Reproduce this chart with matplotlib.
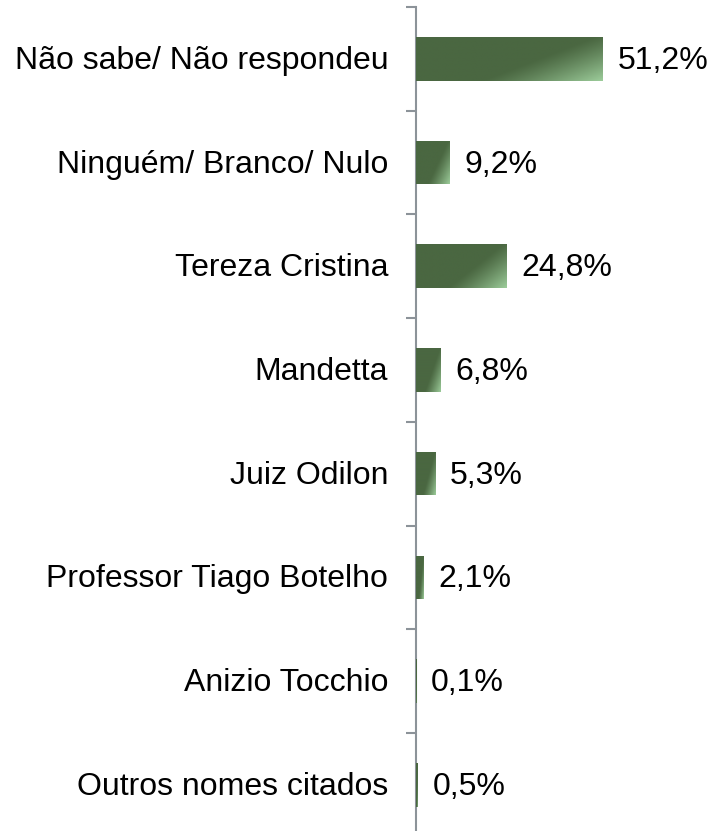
import matplotlib
matplotlib.use("Agg")
import matplotlib.pyplot as plt
import numpy as np
from matplotlib.colors import LinearSegmentedColormap

categorias = ["Não sabe/ Não respondeu", "Ninguém/ Branco/ Nulo", "Tereza Cristina",
              "Mandetta", "Juiz Odilon", "Professor Tiago Botelho",
              "Anizio Tocchio", "Outros nomes citados"]
valores = [51.2, 9.2, 24.8, 6.8, 5.3, 2.1, 0.1, 0.5]
rotulos = ["51,2%", "9,2%", "24,8%", "6,8%", "5,3%", "2,1%", "0,1%", "0,5%"]

plt.rcParams['font.family'] = ['Liberation Sans', 'DejaVu Sans']

fig = plt.figure(figsize=(7.15, 8.31), dpi=100)
W, H = 715, 831
px_por_unidade = 3.65
xmax = 80
# eixo: esquerda em x=416, topo em y=7, 8 categorias de ~103.7 px
altura_cat = 103.7
topo = 7
base = topo + altura_cat * len(categorias)
ax = fig.add_axes([416 / W, 1 - base / H, xmax * px_por_unidade / W, (base - topo) / H])

escuro = "#4a6741"
claro = "#9ccc9a"
cmap = LinearSegmentedColormap.from_list("verde", [escuro, claro])

y = np.arange(len(categorias))
barras = ax.barh(y, valores, height=0.42, color=escuro, edgecolor="none")

# gradiente diagonal dentro de cada barra (claro no canto inferior direito)
u = np.linspace(0, 1, 200)
v = np.linspace(0, 1, 60)
U, V = np.meshgrid(u, v)
mistura = np.clip((U + 0.6 * V - 0.95) / 0.65, 0, 1) ** 1.2
for b in barras:
    x0, y0 = b.get_x(), b.get_y()
    w, h = b.get_width(), b.get_height()
    if w <= 0:
        continue
    im = ax.imshow(mistura, cmap=cmap, vmin=0, vmax=1, aspect="auto",
                   extent=(x0, x0 + w, y0 + h, y0), interpolation="bilinear", zorder=3)
    im.set_clip_path(b)

# rótulos de valor e de categoria (um pouco abaixo para centrar os algarismos)
for yi, val, rot in zip(y, valores, rotulos):
    ax.annotate(rot, (val, yi), xytext=(10.5, -1.5), textcoords="offset points",
                va="center", ha="left", fontsize=23, color="black")
for yi, cat in zip(y, categorias):
    ax.annotate(cat, (0, yi), xycoords=ax.get_yaxis_transform(), xytext=(-20, -1.5),
                textcoords="offset points", va="center", ha="right",
                fontsize=23, color="black")

ax.set_xlim(0, xmax)
ax.set_ylim(len(categorias) - 0.5, -0.5)

ax.set_yticks(np.arange(-0.5, len(categorias), 1))
ax.set_yticklabels([])
ax.tick_params(axis="y", length=7, width=1.5, color="#8c9399")
ax.set_xticks([])

for lado in ["top", "right", "bottom"]:
    ax.spines[lado].set_visible(False)
ax.spines["left"].set_color("#8c9399")
ax.spines["left"].set_linewidth(1.5)
ax.patch.set_alpha(0)

fig.savefig("out.png", dpi=100)
